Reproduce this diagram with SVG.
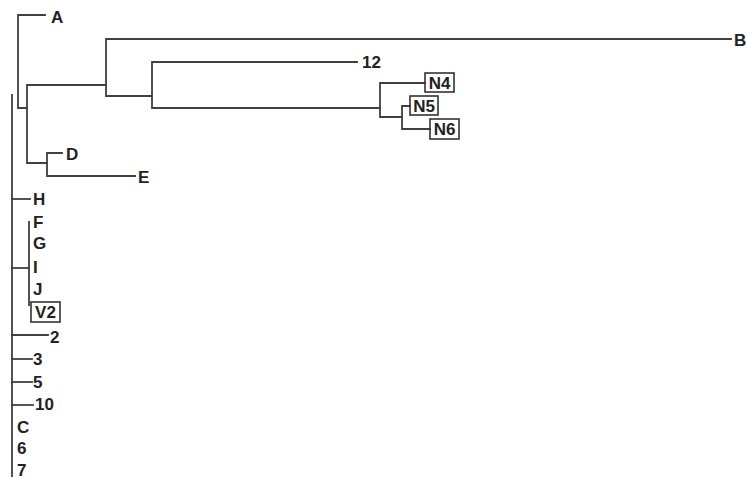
<svg xmlns="http://www.w3.org/2000/svg" width="747" height="479" viewBox="0 0 747 479">
<style>
.e{stroke:#404040;stroke-width:1.8;fill:none;stroke-linecap:square}
.t{font-family:"Liberation Sans",Arial,sans-serif;font-weight:bold;font-size:17px;fill:#222}
.c{text-anchor:middle}
.b{fill:none;stroke:#333;stroke-width:1.6}
</style>
<rect width="747" height="479" fill="#fff"/>
<g id="connectors">
<path class="e" d="M12,95 V476"/>
<path class="e" d="M18,15 V108 M18,15 H45 M18,108 H27"/>
<path class="e" d="M27,85 V163 M27,85 H106 M27,163 H47"/>
<path class="e" d="M47,153 V176 M47,153 H62 M47,176 H135"/>
<path class="e" d="M106,39 V96 M106,39 H731 M106,96 H152"/>
<path class="e" d="M152,62 V108 M152,62 H357 M152,108 H380"/>
<path class="e" d="M380,83 V117 M380,83 H425 M380,117 H402"/>
<path class="e" d="M402,106 V129 M402,106 H410 M402,129 H430"/>
<path class="e" d="M12,199 H30"/>
<path class="e" d="M12,268 H29"/>
<path class="e" d="M29,222 V307" stroke-dasharray="3,2"/>
<path class="e" d="M12,335 H48"/>
<path class="e" d="M12,359 H32"/>
<path class="e" d="M12,382 H32"/>
<path class="e" d="M12,405 H33"/>
</g>
<g id="A"><text class="t" x="51" y="23">A</text></g>
<g id="B"><text class="t" x="734" y="46">B</text></g>
<g id="n12"><text class="t" x="362" y="68">12</text></g>
<g id="N4"><rect class="b" x="425" y="73" width="29" height="19"/><text class="t c" x="439.5" y="89">N4</text></g>
<g id="N5"><rect class="b" x="410" y="96" width="28" height="19"/><text class="t c" x="424" y="112">N5</text></g>
<g id="N6"><rect class="b" x="430" y="119" width="29" height="20"/><text class="t c" x="444.5" y="135">N6</text></g>
<g id="D"><text class="t" x="66" y="160">D</text></g>
<g id="E"><text class="t" x="138" y="183">E</text></g>
<g id="H"><text class="t" x="33" y="205">H</text></g>
<g id="F"><text class="t" x="33" y="228">F</text></g>
<g id="G"><text class="t" x="33" y="249">G</text></g>
<g id="I"><text class="t" x="33" y="273">I</text></g>
<g id="J"><text class="t" x="33" y="295">J</text></g>
<g id="V2"><rect class="b" x="31" y="302" width="29" height="20"/><text class="t c" x="45.5" y="318">V2</text></g>
<g id="n2"><text class="t" x="50" y="343">2</text></g>
<g id="n3"><text class="t" x="33" y="365">3</text></g>
<g id="n5"><text class="t" x="33" y="388">5</text></g>
<g id="n10"><text class="t" x="35" y="410">10</text></g>
<g id="C"><text class="t" x="17" y="433">C</text></g>
<g id="n6"><text class="t" x="17" y="454">6</text></g>
<g id="n7"><text class="t" x="17" y="476">7</text></g>
</svg>
